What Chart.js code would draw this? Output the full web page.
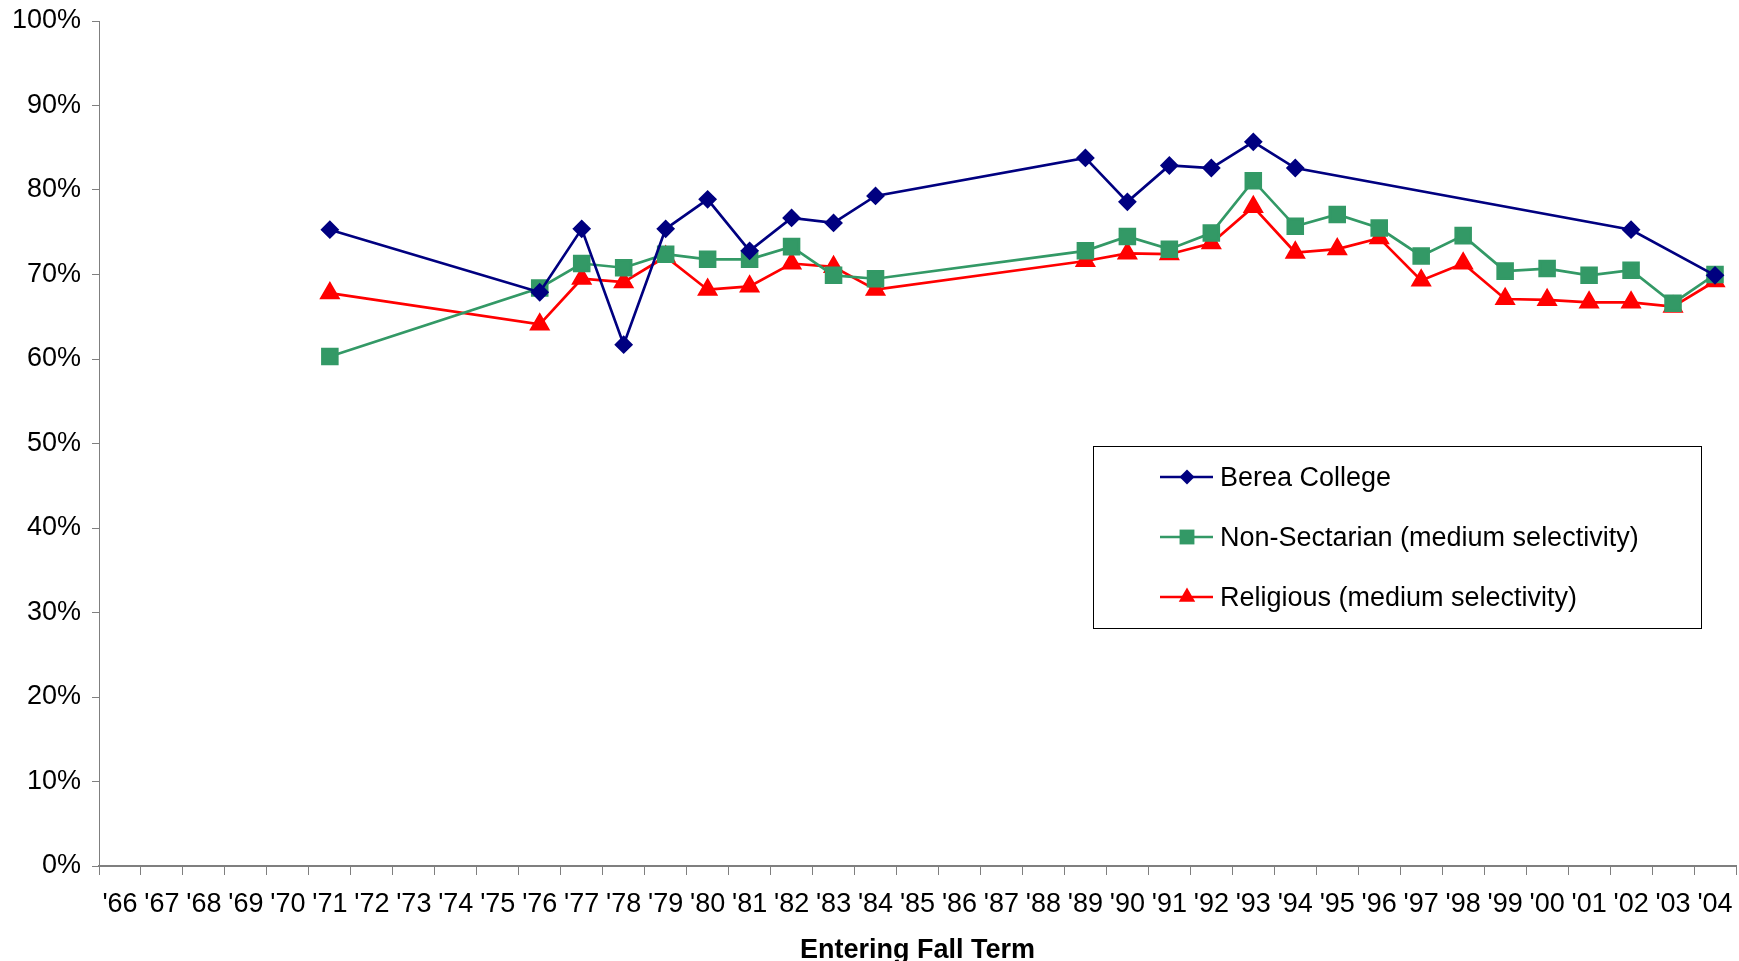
<!DOCTYPE html>
<html lang="en">
<head>
    <meta charset="UTF-8">
    <title>Entering Fall Term</title>
    <script src="https://cdn.jsdelivr.net/npm/chart.js"></script>
    <style>
        html, body { margin: 0; padding: 0; background: #fff; }
        #wrap { width: 1739px; height: 961px; position: relative; }
    </style>
</head>
<body>
    <div id="wrap"><canvas id="chart"></canvas></div>

    <script>
        // Data (percent); null = no value that year
        const years = ["'66","'67","'68","'69","'70","'71","'72","'73","'74","'75","'76","'77","'78","'79",
                       "'80","'81","'82","'83","'84","'85","'86","'87","'88","'89","'90","'91","'92","'93",
                       "'94","'95","'96","'97","'98","'99","'00","'01","'02","'03","'04"];

        const berea = [null, null, null, null, null, 75.3, null, null, null, null, 67.9, 75.4, 61.7, 75.4,
                       78.9, 72.8, 76.7, 76.1, 79.3, null, null, null, null, 83.8, 78.6, 82.9, 82.6, 85.7,
                       82.6, null, null, null, null, null, null, null, 75.3, null, 69.9];

        const nonSectarian = [null, null, null, null, null, 60.3, null, null, null, null, 68.4, 71.3, 70.8, 72.4,
                       71.8, 71.8, 73.3, 69.9, 69.5, null, null, null, null, 72.8, 74.5, 73.0, 74.9, 81.1,
                       75.7, 77.1, 75.5, 72.2, 74.6, 70.4, 70.7, 69.9, 70.5, 66.6, 70.0];

        const religious = [null, null, null, null, null, 67.8, null, null, null, null, 64.1, 69.5, 69.1, 72.1,
                       68.2, 68.6, 71.3, 70.9, 68.2, null, null, null, null, 71.6, 72.5, 72.4, 73.7, 78.0,
                       72.6, 73.0, 74.3, 69.3, 71.3, 67.1, 67.0, 66.7, 66.7, 66.2, 69.2];

        const seriesNames = ['Berea College', 'Non-Sectarian (medium selectivity)', 'Religious (medium selectivity)'];

        const FONT = "'Liberation Sans', Arial, sans-serif";
        const axisGrey = '#7f7f7f';

        // legend box drawn inside the plot like the original
        const boxLegend = {
            id: 'boxLegend',
            afterDraw(chart) {
                const ctx = chart.ctx;
                const bx = 1093, by = 446, bw = 608, bh = 182;
                ctx.save();
                ctx.strokeStyle = '#000';
                ctx.lineWidth = 1;
                ctx.strokeRect(bx + 0.5, by + 0.5, bw, bh);
                ctx.font = '27px ' + FONT;
                ctx.textBaseline = 'middle';
                ctx.textAlign = 'left';
                chart.data.datasets.forEach((ds, i) => {
                    const y = 477 + i * 60;
                    ctx.strokeStyle = ds.borderColor;
                    ctx.lineWidth = 2.5;
                    ctx.beginPath();
                    ctx.moveTo(1160, y);
                    ctx.lineTo(1213, y);
                    ctx.stroke();
                    ctx.fillStyle = ds.pointBackgroundColor;
                    Chart.helpers.drawPoint(ctx, {
                        pointStyle: ds.pointStyle,
                        radius: ds.pointRadius,
                        borderWidth: 0,
                        rotation: 0
                    }, 1187, y);
                    ctx.fillStyle = '#000';
                    ctx.fillText(ds.label, 1220, y + 2);
                });
                ctx.restore();
            }
        };

        window.onload = function () {
            new Chart(document.getElementById('chart'), {
                type: 'line',
                data: {
                    labels: years,
                    datasets: [
                        {
                            label: seriesNames[0],
                            data: berea,
                            borderColor: '#000080',
                            backgroundColor: '#000080',
                            pointBackgroundColor: '#000080',
                            pointBorderColor: '#000080',
                            pointStyle: 'rectRot',
                            pointRadius: 7.5,
                            borderWidth: 2.7,
                            spanGaps: true
                        },
                        {
                            label: seriesNames[1],
                            data: nonSectarian,
                            borderColor: '#339966',
                            backgroundColor: '#339966',
                            pointBackgroundColor: '#339966',
                            pointBorderColor: '#339966',
                            pointStyle: 'rect',
                            pointRadius: 10.5,
                            borderWidth: 2.7,
                            spanGaps: true
                        },
                        {
                            label: seriesNames[2],
                            data: religious,
                            borderColor: '#ff0000',
                            backgroundColor: '#ff0000',
                            pointBackgroundColor: '#ff0000',
                            pointBorderColor: '#ff0000',
                            pointStyle: 'triangle',
                            pointRadius: 9.5,
                            borderWidth: 2.7,
                            spanGaps: true
                        }
                    ]
                },
                options: {
                    responsive: true,
                    maintainAspectRatio: false,
                    animation: false,
                    layout: { autoPadding: false, padding: { top: 21, right: 3, bottom: 0, left: 0 } },
                    plugins: {
                        legend: { display: false },
                        tooltip: { enabled: false }
                    },
                    scales: {
                        x: {
                            offset: true,
                            grid: {
                                offset: true,
                                drawOnChartArea: false,
                                drawTicks: true,
                                tickLength: 9,
                                color: axisGrey
                            },
                            border: { display: true, color: axisGrey, width: 2 },
                            ticks: {
                                autoSkip: false,
                                maxRotation: 0,
                                color: '#000',
                                padding: 13,
                                font: { family: FONT, size: 27 }
                            },
                            title: {
                                display: true,
                                text: 'Entering Fall Term',
                                color: '#000',
                                padding: { top: 0, bottom: -3 },
                                font: { family: FONT, size: 27, weight: 'bold', lineHeight: 1.0 }
                            },
                            afterFit(scale) {
                                scale.height = 95;
                                scale.paddingLeft = 0;
                                scale.paddingRight = 0;
                            }
                        },
                        y: {
                            min: 0,
                            max: 100,
                            grid: {
                                drawOnChartArea: false,
                                drawTicks: true,
                                tickLength: 7,
                                color: axisGrey
                            },
                            border: { display: true, color: axisGrey, width: 1 },
                            ticks: {
                                stepSize: 10,
                                color: '#000',
                                padding: 11,
                                font: { family: FONT, size: 27 },
                                callback: v => v + '%'
                            },
                            afterFit(scale) {
                                scale.width = 99;
                                scale.paddingTop = 0;
                                scale.paddingBottom = 0;
                            }
                        }
                    }
                },
                plugins: [boxLegend]
            });
        };
    </script>
</body>
</html>
